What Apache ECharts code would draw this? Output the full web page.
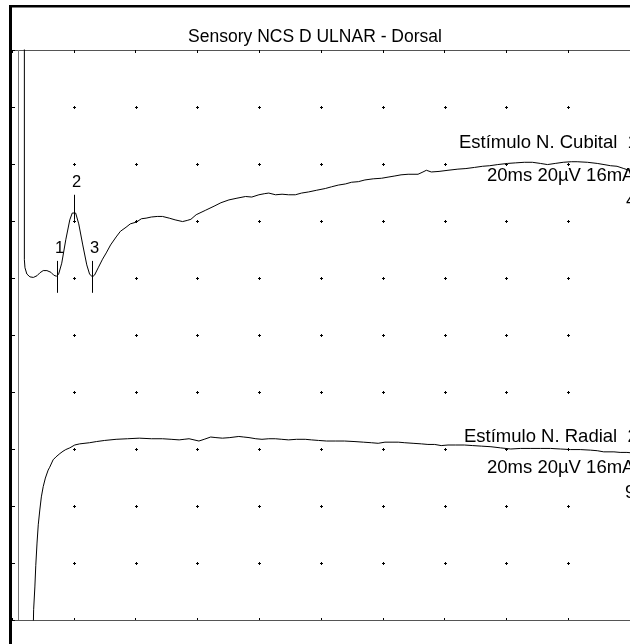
<!DOCTYPE html>
<html>
<head>
<meta charset="utf-8">
<script src="https://cdn.jsdelivr.net/npm/echarts@6/dist/echarts.min.js"></script>
<style>
html,body{margin:0;padding:0;background:#fff;}
#chart{width:630px;height:644px;}
</style>
</head>
<body>
<div id="chart"></div>
<script>
// ---- data (time in ms, amplitude in screen divisions; 20 µV/div, 2 ms/div) ----
const chartTitle = 'Sensory NCS D ULNAR - Dorsal';
const sweepRange = [0, 20];
const sweepStep = 2;
const ampRange = [0, 10];
const ampStep = 1;
const stimulusMs = [0.21];

const cubitalTime = [0.40,0.40,0.42,0.48,0.58,0.69,0.81,0.90,1.01,1.13,1.26,1.35,1.44,1.51,1.61,1.74,1.87,1.95,2.00,2.06,2.16,2.29,2.42,2.51,2.60,2.67,2.80,2.93,3.05,3.19,3.37,3.51,3.69,3.83,4.02,4.19,4.34,4.51,4.70,4.87,5.09,5.28,5.52,5.67,5.79,5.96,6.27,6.54,6.76,7.02,7.28,7.56,7.76,7.99,8.18,8.31,8.53,8.74,8.95,9.17,9.37,9.60,9.86,10.14,10.34,10.56,10.79,10.99,11.21,11.42,11.69,11.96,12.17,12.39,12.59,12.82,13.14,13.30,13.41,13.57,13.82,14.11,14.43,14.69,14.97,15.23,15.46,15.72,16.04,16.30,16.58,16.84,17.10,17.33,17.58,17.84,18.10,18.29,18.62,18.94,19.16,19.37,19.58,19.80,19.97];
const cubitalAmp = [10.5,6.32,6.18,6.07,6.02,6.01,6.04,6.09,6.13,6.13,6.10,6.05,6.03,6.07,6.26,6.67,7.02,7.14,7.17,7.14,6.95,6.58,6.23,6.07,6.02,6.05,6.19,6.33,6.44,6.58,6.72,6.82,6.89,6.95,6.98,7.04,7.05,7.07,7.08,7.08,7.05,7.02,6.99,7.01,7.03,7.11,7.19,7.26,7.32,7.37,7.40,7.43,7.42,7.46,7.48,7.49,7.46,7.47,7.46,7.46,7.49,7.51,7.54,7.57,7.60,7.63,7.65,7.68,7.69,7.72,7.74,7.75,7.77,7.79,7.81,7.82,7.82,7.86,7.89,7.86,7.87,7.89,7.91,7.92,7.94,7.96,7.97,7.99,8.01,8.02,8.03,8.03,8.01,7.99,8.01,8.03,8.04,8.04,8.03,8.01,7.99,7.97,7.96,7.92,7.89];

const radialTime = [0.69,0.70,0.74,0.77,0.81,0.85,0.90,0.95,1.01,1.08,1.17,1.22,1.33,1.42,1.55,1.65,1.74,1.87,2.03,2.19,2.51,2.73,3.00,3.37,3.74,4.12,4.51,4.87,5.15,5.41,5.57,5.73,5.89,6.05,6.22,6.43,6.60,6.81,7.05,7.34,7.50,7.67,7.89,8.09,8.31,8.52,8.73,8.95,9.21,9.49,9.69,9.92,10.18,10.46,10.76,11.10,11.37,11.63,11.85,12.07,12.33,12.50,12.71,12.98,13.25,13.46,13.68,13.89,14.11,14.36,14.64,14.91,15.20,15.50,15.81,16.14,16.46,16.79,17.10,17.43,17.75,18.08,18.39,18.72,18.94,19.15,19.48,19.68,19.90,20.10];
const radialAmp = [-0.09,0.18,0.58,0.96,1.35,1.67,1.93,2.16,2.34,2.49,2.63,2.68,2.81,2.86,2.92,2.96,2.99,3.02,3.07,3.09,3.11,3.13,3.15,3.17,3.18,3.19,3.18,3.18,3.17,3.16,3.17,3.18,3.16,3.14,3.17,3.21,3.20,3.19,3.20,3.22,3.21,3.20,3.18,3.17,3.18,3.18,3.17,3.16,3.17,3.17,3.16,3.15,3.14,3.14,3.14,3.13,3.12,3.11,3.10,3.12,3.12,3.12,3.11,3.10,3.09,3.08,3.08,3.06,3.07,3.07,3.07,3.06,3.05,3.04,3.02,3.00,3.01,3.01,3.01,3.01,3.00,2.99,2.99,2.98,2.97,2.95,2.95,2.94,2.94,2.93];

const markerNames = ['1','2','3'];
const markerTime = [1.46, 2.00, 2.60];
const markerLow = [5.74, 7.02, 5.74];
const markerHigh = [6.30, 7.46, 6.30];

const cubitalLabels = ['Estímulo N. Cubital  1', '20ms 20µV 16mA', '4'];
const radialLabels = ['Estímulo N. Radial  2', '20ms 20µV 16mA', '9'];

// ---- chart ----
const FONT = '"Liberation Sans", Arial, Helvetica, sans-serif';
const zip = (a, b) => a.map((v, i) => [v, b[i]]);

// grid "+" dot positions at every inner division crossing (from the axis ticks)
const dotCells = [];
for (let tx = sweepRange[0] + sweepStep; tx < sweepRange[1]; tx += sweepStep) {
  for (let ty = ampRange[0] + ampStep; ty < ampRange[1]; ty += ampStep) dotCells.push([tx, ty]);
}

const chart = echarts.init(document.getElementById('chart'), null, {renderer: 'canvas', devicePixelRatio: 1});

const commonX = {
  type: 'value', min: sweepRange[0], max: sweepRange[1], interval: sweepStep,
  axisLabel: {show: false}, splitLine: {show: false}
};

const option = {
  animation: false,
  backgroundColor: '#fff',
  title: {
    text: chartTitle, left: 'center', top: 23,
    textStyle: {fontFamily: FONT, fontSize: 17.5, fontWeight: 'normal', color: '#000'}
  },
  grid: {left: 12, top: 50, width: 621, height: 570, containLabel: false},
  xAxis: [
    Object.assign({}, commonX, {
      position: 'bottom',
      axisLine: {show: true, lineStyle: {color: '#555', width: 1}},
      axisTick: {show: true, inside: true, length: 2, lineStyle: {color: '#000'}}
    }),
    Object.assign({}, commonX, {
      position: 'top',
      axisLine: {show: true, lineStyle: {color: '#555', width: 1}},
      axisTick: {show: true, inside: true, length: 3, lineStyle: {color: '#000'}}
    })
  ],
  yAxis: {
    type: 'value', min: ampRange[0], max: ampRange[1], interval: ampStep,
    axisLabel: {show: false},
    axisLine: {show: false},
    axisTick: {show: true, inside: true, length: 3, lineStyle: {color: '#000'}},
    splitLine: {show: false}
  },
  series: [
    {
      type: 'custom', name: 'dots', z: 2, silent: true,
      data: dotCells,
      renderItem: function (params, api) {
        const p = api.coord([api.value(0), api.value(1)]);
        const x = Math.round(p[0]) + 0.5, y = Math.round(p[1]) + 0.5;
        return {
          type: 'group',
          children: [
            {type: 'line', shape: {x1: x - 1.5, y1: y, x2: x + 1.5, y2: y}, style: {stroke: '#000', lineWidth: 1}},
            {type: 'line', shape: {x1: x, y1: y - 1.5, x2: x, y2: y + 1.5}, style: {stroke: '#000', lineWidth: 1}}
          ]
        };
      }
    },
    {
      type: 'line', name: 'Cubital', data: zip(cubitalTime, cubitalAmp),
      showSymbol: false, symbol: 'none', smooth: false, clip: true,
      lineStyle: {color: '#000', width: 1}, z: 5,
      markLine: {
        silent: true, symbol: 'none', label: {show: false},
        lineStyle: {color: '#777', type: 'solid', width: 1},
        data: stimulusMs.map(t => ({xAxis: t}))
      }
    },
    {
      type: 'line', name: 'Radial', data: zip(radialTime, radialAmp),
      showSymbol: false, symbol: 'none', smooth: false, clip: true,
      lineStyle: {color: '#000', width: 1}, z: 5
    },
    {
      type: 'custom', name: 'markers', z: 6,
      data: markerTime.map((t, i) => [t, markerLow[i], markerHigh[i]]),
      renderItem: function (params, api) {
        const t = api.value(0);
        const pLo = api.coord([t, api.value(1)]);
        const pHi = api.coord([t, api.value(2)]);
        const x = Math.round(pLo[0]) + 0.5;
        return {
          type: 'group',
          children: [
            {type: 'line', shape: {x1: x, y1: pLo[1], x2: x, y2: pHi[1]}, style: {stroke: '#000', lineWidth: 1}},
            {type: 'text', style: {text: markerNames[params.dataIndex], x: x + 2, y: pHi[1] - 4,
              align: 'center', verticalAlign: 'bottom', fontFamily: FONT, fontSize: 16.5, fill: '#000'}}
          ]
        };
      }
    }
  ],
  graphic: [
    {type: 'rect', shape: {x: 9, y: 5, width: 630, height: 2.5}, style: {fill: '#000'}, z: 100},
    {type: 'rect', shape: {x: 9, y: 5, width: 3, height: 640}, style: {fill: '#000'}, z: 100},
    {type: 'text', x: 459, y: 143, style: {text: cubitalLabels[0], fontFamily: FONT, fontSize: 18.5, fill: '#000', verticalAlign: 'middle'}, z: 50},
    {type: 'text', x: 487, y: 175.5, style: {text: cubitalLabels[1], fontFamily: FONT, fontSize: 18.5, fill: '#000', verticalAlign: 'middle'}, z: 50},
    {type: 'text', x: 626, y: 201, style: {text: cubitalLabels[2], fontFamily: FONT, fontSize: 18.5, fill: '#000', verticalAlign: 'middle'}, z: 50},
    {type: 'text', x: 464, y: 437, style: {text: radialLabels[0], fontFamily: FONT, fontSize: 18.5, fill: '#000', verticalAlign: 'middle'}, z: 50},
    {type: 'text', x: 487, y: 468, style: {text: radialLabels[1], fontFamily: FONT, fontSize: 18.5, fill: '#000', verticalAlign: 'middle'}, z: 50},
    {type: 'text', x: 625, y: 493, style: {text: radialLabels[2], fontFamily: FONT, fontSize: 18.5, fill: '#000', verticalAlign: 'middle'}, z: 50}
  ]
};
chart.setOption(option);
</script>
</body>
</html>
